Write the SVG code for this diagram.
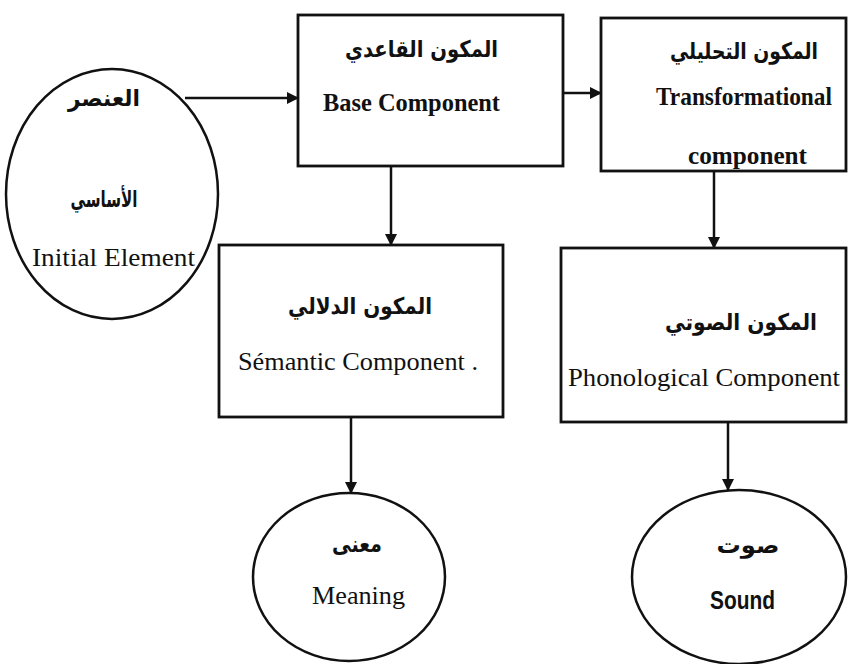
<svg xmlns="http://www.w3.org/2000/svg" width="848" height="664" viewBox="0 0 848 664">
<style>
.shape{fill:#fff;stroke:#111;stroke-width:2.8}
.ell{fill:#fff;stroke:#111;stroke-width:2.5}
.conn{fill:none;stroke:#111;stroke-width:2.5}
.en{font-family:"Liberation Serif","Times New Roman",serif;font-size:26px;fill:#111;text-anchor:middle}
.b{font-weight:bold}
.sans{font-family:"Liberation Sans",Arial,sans-serif;font-weight:bold}
.ar{font-family:"DejaVu Sans","Noto Sans",sans-serif;font-size:23px;fill:#111;text-anchor:middle;font-weight:bold}
</style>
<defs>
<marker id="ah" markerWidth="12" markerHeight="12" refX="11" refY="6" orient="auto" markerUnits="userSpaceOnUse">
<path d="M0,0 L12,6 L0,12 z" fill="#111"/>
</marker>
</defs>
<rect width="848" height="664" fill="#fff"/>

<g id="initial">
<ellipse class="ell" cx="112" cy="194" rx="106" ry="125"/>
<text class="ar" x="104" y="106" textLength="72" lengthAdjust="spacingAndGlyphs">العنصر</text>
<text class="ar" x="104" y="207" textLength="67" lengthAdjust="spacingAndGlyphs">الأساسي</text>
<text class="en" x="113.5" y="266" font-size="29" textLength="163" lengthAdjust="spacingAndGlyphs">Initial Element</text>
</g>

<g id="base">
<rect class="shape" x="298" y="15" width="265" height="151"/>
<text class="ar" x="421.5" y="57" textLength="153" lengthAdjust="spacingAndGlyphs">المكون القاعدي</text>
<text class="en b" x="411.5" y="111" textLength="177" lengthAdjust="spacingAndGlyphs">Base Component</text>
</g>

<g id="transformational">
<rect class="shape" x="601" y="18" width="245" height="153"/>
<text class="ar" x="744" y="59" font-size="20" textLength="148" lengthAdjust="spacingAndGlyphs">المكون التحليلي</text>
<text class="en b" x="744" y="105" font-size="23" textLength="176" lengthAdjust="spacingAndGlyphs">Transformational</text>
<text class="en b" x="747.5" y="164" textLength="119" lengthAdjust="spacingAndGlyphs">component</text>
</g>

<g id="semantic">
<rect class="shape" x="219" y="245" width="284" height="172"/>
<text class="ar" x="360" y="314" textLength="144" lengthAdjust="spacingAndGlyphs">المكون الدلالي</text>
<text class="en" x="358" y="370" font-size="25" textLength="240" lengthAdjust="spacingAndGlyphs">Sémantic Component .</text>
</g>

<g id="phonological">
<rect class="shape" x="561" y="248" width="285" height="174"/>
<text class="ar" x="741" y="330" textLength="152" lengthAdjust="spacingAndGlyphs">المكون الصوتي</text>
<text class="en" x="704" y="386" font-size="25" textLength="272" lengthAdjust="spacingAndGlyphs">Phonological Component</text>
</g>

<g id="meaning">
<ellipse class="ell" cx="349" cy="577" rx="96" ry="84"/>
<text class="ar" x="357" y="552" textLength="50" lengthAdjust="spacingAndGlyphs">معنى</text>
<text class="en" x="358.5" y="604" font-size="25" textLength="93" lengthAdjust="spacingAndGlyphs">Meaning</text>
</g>

<g id="sound">
<ellipse class="ell" cx="739" cy="577" rx="107" ry="87"/>
<text class="ar" x="748" y="553" textLength="63" lengthAdjust="spacingAndGlyphs">صوت</text>
<text class="en sans" x="742.5" y="609" font-size="25" textLength="65" lengthAdjust="spacingAndGlyphs">Sound</text>
</g>

<g id="connectors">
<path class="conn" d="M185,98 L298,98" marker-end="url(#ah)"/>
<path class="conn" d="M563,93 L601,93" marker-end="url(#ah)"/>
<path class="conn" d="M391,166 L391,245" marker-end="url(#ah)"/>
<path class="conn" d="M714,171 L714,248" marker-end="url(#ah)"/>
<path class="conn" d="M351,417 L351,493" marker-end="url(#ah)"/>
<path class="conn" d="M728,422 L728,490" marker-end="url(#ah)"/>
</g>
</svg>
